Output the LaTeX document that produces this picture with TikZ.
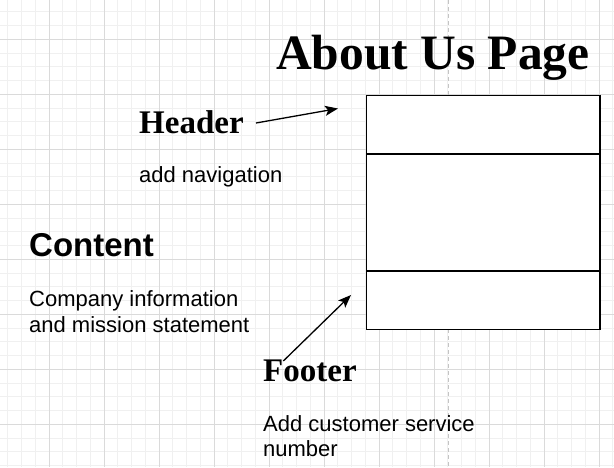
\documentclass[tikz,border=0pt]{standalone}
\usepackage{fontspec}
\setmainfont{Liberation Serif}
\setsansfont{Liberation Sans}
\usetikzlibrary{arrows.meta}
\definecolor{gridmajor}{HTML}{DADADA}
\definecolor{gridminor}{HTML}{F0F0F0}
\definecolor{pagebreak}{HTML}{C4C4C4}
\tikzset{
  heading/.style={anchor=base west, inner sep=0pt, font=\fontsize{33}{38}\selectfont\bfseries},
  sechead/.style={anchor=base west, inner sep=0pt, font=\sffamily\fontsize{33}{38}\selectfont\bfseries},
  note/.style={anchor=base west, inner sep=0pt, align=left, font=\sffamily\fontsize{22}{25.5}\selectfont},
  section/.style={draw=black, fill=white, line width=1.3pt, minimum width=233.6pt, inner sep=0pt, anchor=north west},
  pointer/.style={-{Stealth[length=13pt, width=10pt, inset=3pt]}, line width=1.3pt, draw=black}
}
\begin{document}
\begin{tikzpicture}[x=1pt, y=-1pt]
  \useasboundingbox (0,0) rectangle (614,467);
  \fill[white] (0,0) rectangle (614,467);
  % background grid
  \foreach \i in {0,...,44} {
    \draw[gridminor, line width=0.9pt] ({7.75+13.75*\i},0) -- ({7.75+13.75*\i},467);
  }
  \foreach \j in {0,...,34} {
    \draw[gridminor, line width=0.9pt] (0,{11.8+13.75*\j}) -- (614,{11.8+13.75*\j});
  }
  \foreach \i in {0,...,11} {
    \draw[gridmajor, line width=0.9pt] ({49+55*\i},0) -- ({49+55*\i},467);
  }
  \foreach \j in {0,...,8} {
    \draw[gridmajor, line width=0.9pt] (0,{39.3+55*\j}) -- (614,{39.3+55*\j});
  }
  % page break
  \draw[pagebreak, line width=1pt, dash pattern=on 4pt off 3pt] (448,0) -- (448,467);

  % page mock-up
  \node[section, minimum height=58.3pt] (hdr) at (365.7,95) {};
  \node[section, minimum height=117pt] (body) at (365.7,153.3) {};
  \node[section, minimum height=58.4pt] (ftr) at (365.7,270.3) {};

  % title
  \node[anchor=base west, inner sep=0pt, font=\fontsize{49.5}{56}\selectfont\bfseries] (title) at (276,69.5) {About Us Page};

  % header label
  \node[heading] (hlabel) at (139,133.3) {Header};
  \node[note] (hnote) at (139,182.7) {add navigation};

  % content label (multi-line notes are placed by their last baseline)
  \node[sechead] (clabel) at (29,256.7) {Content};
  \node[note] (cnote) at (29,332.3) {Company information\\and mission statement};

  % footer label
  \node[heading] (flabel) at (263,381.7) {Footer};
  \node[note] (fnote) at (263,456.5) {Add customer service\\number};

  % pointers
  \coordinate (hstart) at (256,123);
  \coordinate (hend) at (338,108.5);
  \coordinate (fstart) at (283.3,361);
  \coordinate (fend) at (351,295);
  \draw[pointer] (hstart) -- (hend);
  \draw[pointer] (fstart) -- (fend);
\end{tikzpicture}
\end{document}
